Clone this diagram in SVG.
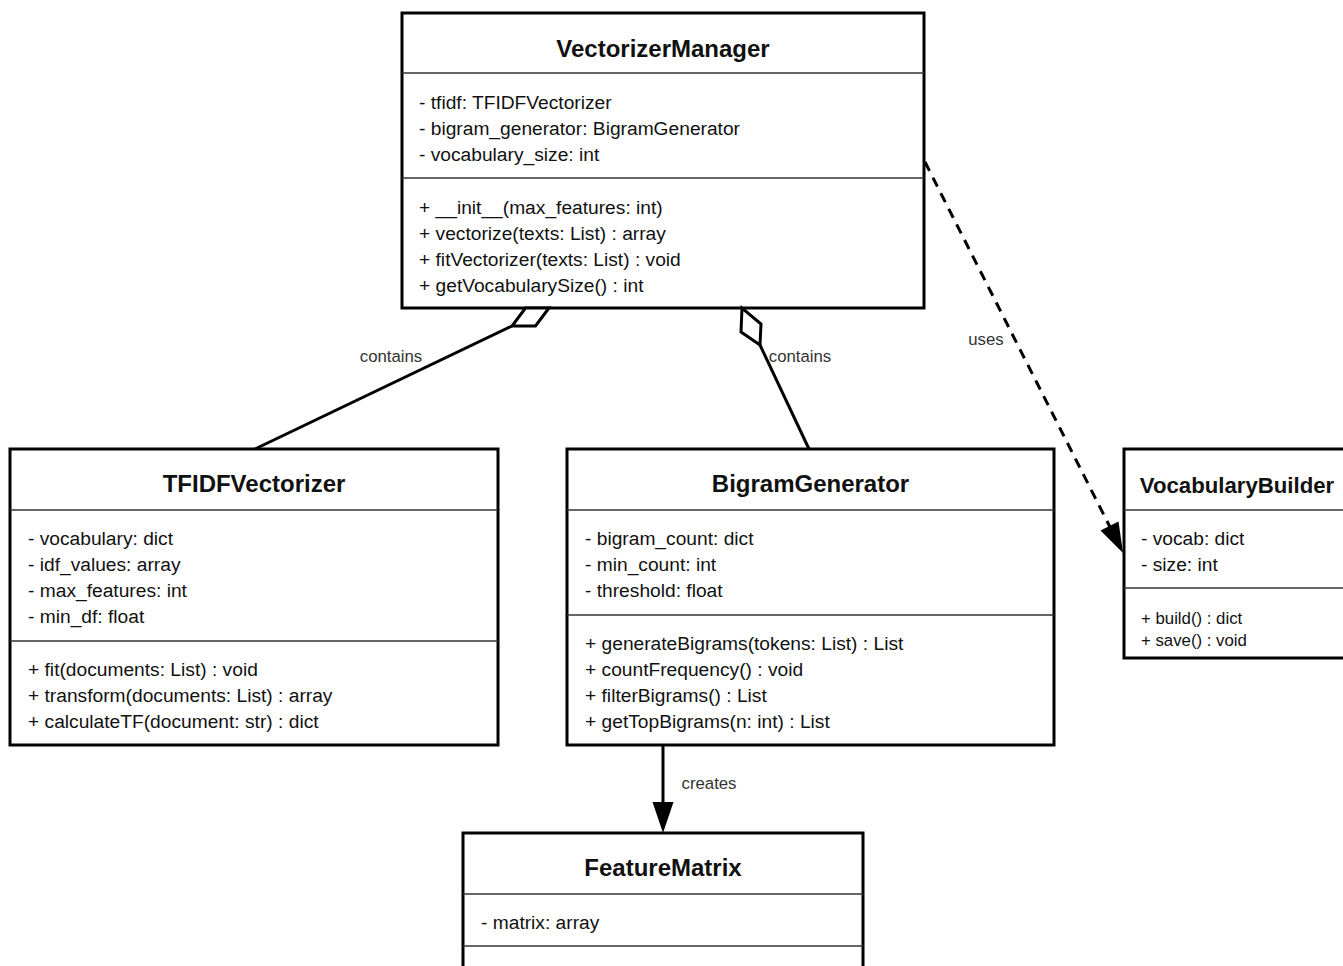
<svg xmlns="http://www.w3.org/2000/svg" width="1343" height="966" viewBox="0 0 1343 966">
  <defs>
    <style>
      .box { fill: #ffffff; stroke: #000000; stroke-width: 3; }
      .sep { stroke: #333333; stroke-width: 1.6; }
      .title { font-family: "Liberation Sans", Arial, sans-serif; font-weight: bold; font-size: 24px; fill: #111111; text-anchor: middle; }
      .txt { font-family: "Liberation Sans", Arial, sans-serif; font-size: 19.2px; fill: #111111; }
      .small { font-family: "Liberation Sans", Arial, sans-serif; font-size: 16.8px; fill: #111111; }
      .lbl { font-family: "Liberation Sans", Arial, sans-serif; font-size: 16.8px; fill: #333333; text-anchor: middle; }
      .edge { fill: none; stroke: #000000; stroke-width: 3; }
      .dash { stroke-dasharray: 10 7.5; }
      .diamond { fill: #ffffff; stroke: #000000; stroke-width: 3; stroke-linejoin: miter; }
      .head { fill: #000000; stroke: none; }
    </style>
  </defs>

  <rect width="1343" height="966" fill="#ffffff"/>

  <!-- connectors -->
  <g id="connectors">
    <!-- VectorizerManager uses VocabularyBuilder -->
    <line class="edge dash" x1="925" y1="162" x2="1111" y2="529"/>
    <polygon class="head" points="1123,553 1118.5,521.5 1100.5,530.5"/>
    <text class="lbl" x="986" y="345">uses</text>

    <!-- BigramGenerator creates FeatureMatrix -->
    <line class="edge" x1="663" y1="745" x2="663" y2="806"/>
    <polygon class="head" points="663,833 652.5,802 673.5,802"/>
    <text class="lbl" x="709" y="789">creates</text>

    <!-- aggregation: TFIDFVectorizer -->
    <line class="edge" x1="255" y1="449" x2="512" y2="326"/>
    <text class="lbl" x="391" y="362">contains</text>

    <!-- aggregation: BigramGenerator -->
    <line class="edge" x1="809" y1="449" x2="760" y2="345"/>
    <text class="lbl" x="800" y="362">contains</text>
  </g>

  <!-- VectorizerManager -->
  <g id="vectorizer-manager">
    <rect class="box" x="402" y="13" width="522" height="295"/>
    <line class="sep" x1="402" y1="73" x2="924" y2="73"/>
    <line class="sep" x1="402" y1="178" x2="924" y2="178"/>
    <text class="title" x="663" y="57">VectorizerManager</text>
    <text class="txt" x="419" y="109">- tfidf: TFIDFVectorizer</text>
    <text class="txt" x="419" y="135">- bigram_generator: BigramGenerator</text>
    <text class="txt" x="419" y="161">- vocabulary_size: int</text>
    <text class="txt" x="419" y="214">+ __init__(max_features: int)</text>
    <text class="txt" x="419" y="240">+ vectorize(texts: List) : array</text>
    <text class="txt" x="419" y="266">+ fitVectorizer(texts: List) : void</text>
    <text class="txt" x="419" y="292">+ getVocabularySize() : int</text>
  </g>

  <!-- aggregation diamonds drawn over the owner's border -->
  <g id="aggregation-ends">
    <polygon class="diamond" points="549,308 525.5,308 512,326 535.5,326"/>
    <polygon class="diamond" points="742,308 741,332 760,345 761,324"/>
  </g>

  <!-- TFIDFVectorizer -->
  <g id="tfidf-vectorizer">
    <rect class="box" x="10" y="449" width="488" height="296"/>
    <line class="sep" x1="10" y1="510" x2="498" y2="510"/>
    <line class="sep" x1="10" y1="641" x2="498" y2="641"/>
    <text class="title" x="254" y="492">TFIDFVectorizer</text>
    <text class="txt" x="28" y="545">- vocabulary: dict</text>
    <text class="txt" x="28" y="571">- idf_values: array</text>
    <text class="txt" x="28" y="597">- max_features: int</text>
    <text class="txt" x="28" y="623">- min_df: float</text>
    <text class="txt" x="28" y="676">+ fit(documents: List) : void</text>
    <text class="txt" x="28" y="702">+ transform(documents: List) : array</text>
    <text class="txt" x="28" y="728">+ calculateTF(document: str) : dict</text>
  </g>

  <!-- BigramGenerator -->
  <g id="bigram-generator">
    <rect class="box" x="567" y="449" width="487" height="296"/>
    <line class="sep" x1="567" y1="510" x2="1054" y2="510"/>
    <line class="sep" x1="567" y1="615" x2="1054" y2="615"/>
    <text class="title" x="810.5" y="492">BigramGenerator</text>
    <text class="txt" x="585" y="545">- bigram_count: dict</text>
    <text class="txt" x="585" y="571">- min_count: int</text>
    <text class="txt" x="585" y="597">- threshold: float</text>
    <text class="txt" x="585" y="650">+ generateBigrams(tokens: List) : List</text>
    <text class="txt" x="585" y="676">+ countFrequency() : void</text>
    <text class="txt" x="585" y="702">+ filterBigrams() : List</text>
    <text class="txt" x="585" y="728">+ getTopBigrams(n: int) : List</text>
  </g>

  <!-- VocabularyBuilder -->
  <g id="vocabulary-builder">
    <rect class="box" x="1124" y="449" width="228" height="209"/>
    <line class="sep" x1="1124" y1="510" x2="1352" y2="510"/>
    <line class="sep" x1="1124" y1="588" x2="1352" y2="588"/>
    <text class="title" x="1237" y="493" style="font-size:22.2px">VocabularyBuilder</text>
    <text class="txt" x="1141" y="545">- vocab: dict</text>
    <text class="txt" x="1141" y="571">- size: int</text>
    <text class="small" x="1141" y="624">+ build() : dict</text>
    <text class="small" x="1141" y="646">+ save() : void</text>
  </g>

  <!-- FeatureMatrix -->
  <g id="feature-matrix">
    <rect class="box" x="463" y="833" width="400" height="160"/>
    <line class="sep" x1="463" y1="894" x2="863" y2="894"/>
    <line class="sep" x1="463" y1="946" x2="863" y2="946"/>
    <text class="title" x="663" y="876">FeatureMatrix</text>
    <text class="txt" x="481" y="929">- matrix: array</text>
  </g>
</svg>
